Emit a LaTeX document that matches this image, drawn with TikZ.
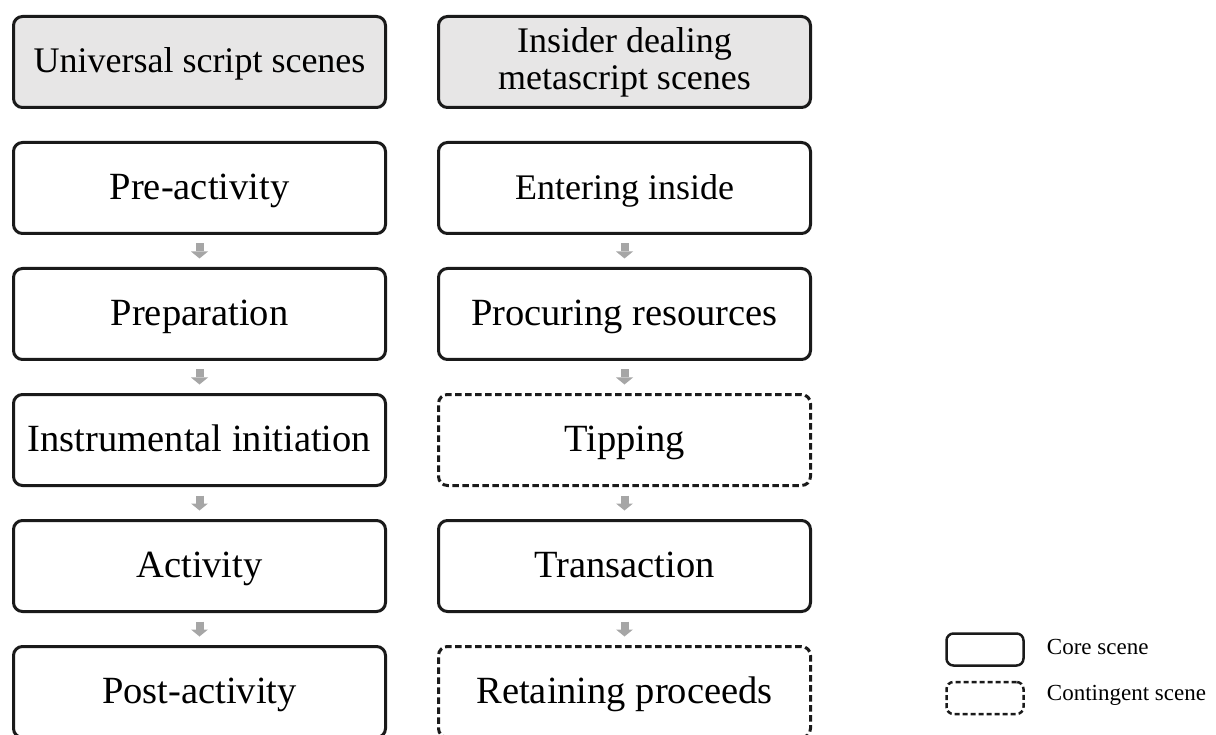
\documentclass[tikz,border=0pt]{standalone}
\usepackage{fontspec}
\setmainfont{Liberation Serif}
\usetikzlibrary{arrows.meta, positioning}

\definecolor{headgray}{HTML}{E7E6E6}
\definecolor{arrowgray}{HTML}{A6A6A6}
\definecolor{edge}{HTML}{1A1A1A}

\begin{document}
\begin{tikzpicture}[x=1pt, y=-1pt, node distance=32pt,
    scene/.style={draw=edge, line width=3pt, rounded corners=9pt,
        minimum width=372pt, minimum height=91pt, align=center,
        text height=29pt, text depth=6pt,
        font=\fontsize{38.5}{42}\selectfont},
    header/.style={scene, fill=headgray, text height=27pt,
        font=\fontsize{36}{37}\selectfont},
    contingent/.style={scene, dash pattern=on 6.5pt off 3.5pt},
    flow/.style={draw=arrowgray, line width=8pt,
        -{Triangle[width=17pt, length=7pt, line width=0pt]},
        shorten <=8.5pt, shorten >=8.5pt},
    keybox/.style={draw=edge, line width=2.5pt, rounded corners=7pt,
        minimum width=77pt, minimum height=32pt},
    keytext/.style={inner sep=0pt, font=\fontsize{23}{26}\selectfont}]
    \useasboundingbox (0,0) rectangle (1216,735);

    % column headings
    \node[header] (uni) at (199.5,62) {Universal script scenes};
    \node[header, right=50pt of uni, text height=, text depth=] (ids) {Insider dealing\\metascript scenes};

    % universal script
    \node[scene, below=of uni] (pre) {Pre-activity};
    \node[scene, below=of pre] (prep) {Preparation};
    \node[scene, below=of prep] (init) {Instrumental initiation};
    \node[scene, below=of init] (act) {Activity};
    \node[scene, below=of act] (post) {Post-activity};

    % insider dealing metascript
    \node[scene, below=of ids, font=\fontsize{36}{40}\selectfont] (enter) {Entering inside};
    \node[scene, below=of enter] (procure) {Procuring resources};
    \node[contingent, below=of procure] (tip) {Tipping};
    \node[scene, below=of tip] (trans) {Transaction};
    \node[contingent, below=of trans] (retain) {Retaining proceeds};

    \draw[flow] (pre) -- (prep);
    \draw[flow] (prep) -- (init);
    \draw[flow] (init) -- (act);
    \draw[flow] (act) -- (post);
    \draw[flow] (enter) -- (procure);
    \draw[flow] (procure) -- (tip);
    \draw[flow] (tip) -- (trans);
    \draw[flow] (trans) -- (retain);

    % legend
    \node[keybox] (corekey) at (985,649.5) {};
    \node[keybox, dash pattern=on 5pt off 3pt] (contkey) at (985,698) {};
    \node[keytext, right=22pt of corekey, yshift=3pt] (corelbl) {Core scene};
    \node[keytext, right=22pt of contkey, yshift=3pt] (contlbl) {Contingent scene};
\end{tikzpicture}
\end{document}
